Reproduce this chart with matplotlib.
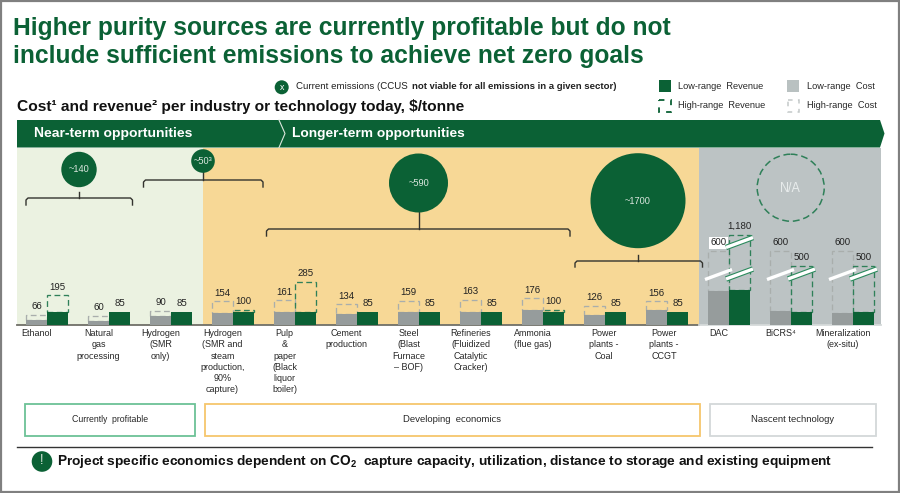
import numpy as np
import matplotlib
matplotlib.use("Agg")
import matplotlib.pyplot as plt
from matplotlib.patches import Rectangle, Circle, Polygon
from matplotlib.ticker import NullLocator

plt.rcParams['font.family'] = ['Liberation Sans', 'DejaVu Sans']
plt.rcParams['mathtext.default'] = 'regular'
plt.rcParams['text.hinting'] = 'native'

categories = ["Ethanol", "Natural\ngas\nprocessing", "Hydrogen\n(SMR\nonly)",
              "Hydrogen\n(SMR and\nsteam\nproduction,\n90%\ncapture)",
              "Pulp\n&\npaper\n(Black\nliquor\nboiler)", "Cement\nproduction",
              "Steel\n(Blast\nFurnace\n– BOF)",
              "Refineries\n(Fluidized\nCatalytic\nCracker)", "Ammonia\n(flue gas)",
              "Power\nplants -\nCoal", "Power\nplants -\nCCGT", "DAC", "BiCRS⁴",
              "Mineralization\n(ex-situ)"]
cost_low = [30, 25, 60, 80, 85, 72, 85, 85, 95, 65, 95, 225, 90, 80]
cost_high = [66, 60, 90, 154, 161, 134, 159, 163, 176, 126, 156, 600, 600, 600]
rev_low = [85, 85, 85, 85, 85, 85, 85, 85, 85, 85, 85, 230, 85, 85]
rev_high = [195, 85, 85, 100, 285, 85, 85, 85, 100, 85, 85, 1180, 500, 500]
cost_labels = ["66", "60", "90", "154", "161", "134", "159", "163", "176", "126", "156", "600", "600", "600"]
rev_labels = ["195", "85", "85", "100", "285", "85", "85", "85", "100", "85", "85", "1,180", "500", "500"]

GREEN = "#0B6135"; DASHG = "#2F8059"; GRAYBAR = "#969C9C"; DASHC = "#A9AEAC"
TXT = "#222222"

fig = plt.figure(figsize=(9, 4.93), dpi=100, facecolor="white")

# background layer in pixel coordinates
bg = fig.add_axes([0, 0, 1, 1], zorder=0)
bg.set_xlim(0, 900); bg.set_ylim(493, 0); bg.axis("off")
bg.add_patch(Rectangle((17, 147.5), 186, 177.5, fc="#EBF2E1", ec="none"))
bg.add_patch(Rectangle((203, 147.5), 496, 177.5, fc="#F7D896", ec="none"))
bg.add_patch(Rectangle((699, 147.5), 182, 177.5, fc="#BCC3C4", ec="none"))
bg.plot([17, 699], [324.8, 324.8], color="#6F6F68", lw=1.3)
bg.plot([699, 881], [324.8, 324.8], color="#D5DADA", lw=1.3)

# chart layer: bars via a compressed y-scale (values above 285 are on a broken axis)
ax = fig.add_axes([16 / 900, (493 - 324.5) / 493, 868 / 900, 177 / 493], zorder=1)
ax.patch.set_alpha(0)
_v = [0, 285, 500, 600, 1180, 3000]
_p = [0, 42.75, 59, 73.5, 89.5, 177]
ax.set_yscale("function", functions=(lambda y: np.interp(y, _v, _p),
                                     lambda p: np.interp(p, _p, _v)))
ax.set_xlim(-0.5, 13.5); ax.set_ylim(0, 3000)
for s in ax.spines.values():
    s.set_visible(False)
ax.set_yticks([])
ax.yaxis.set_minor_locator(NullLocator())

x = np.arange(len(categories), dtype=float)
w = 21 / 62
cl, ch, rl, rh = map(np.array, (cost_low, cost_high, rev_low, rev_high))
DASH = (0, (4.4, 2.6))
ax.bar(x - w / 2, ch - cl, w, bottom=cl, fill=False, edgecolor=DASHC, lw=0.95, ls=DASH, zorder=2)
m = rh > rl
ax.bar(x[m] + w / 2, (rh - rl)[m], w, bottom=rl[m], fill=False, edgecolor=DASHG, lw=0.95, ls=DASH, zorder=3)
ax.bar(x - w / 2, cl, w, color=GRAYBAR, zorder=4)
ax.bar(x + w / 2, rl, w, color=GREEN, zorder=4)

tick_x = x - w / 2
tick_x[9] += 0.15; tick_x[10] += 0.12
ax.set_xticks(tick_x)
ax.set_xticklabels(categories, fontsize=6.5, color=TXT, linespacing=1.32)
ax.tick_params(axis="x", length=0, pad=3.4)

for i in range(len(categories)):
    bb = dict(fc="white", ec="none", pad=1.2) if i == 11 else None
    ax.annotate(cost_labels[i], (x[i] - w / 2, ch[i]), xytext=(0, 5.8), textcoords="offset points",
                ha="center", va="center", fontsize=7.0, color=TXT, bbox=bb, zorder=6)
    ax.annotate(rev_labels[i], (x[i] + w / 2, rh[i]), xytext=(0, 5.8), textcoords="offset points",
                ha="center", va="center", fontsize=7.0, color=TXT, zorder=6)

# overlay layer in pixel coordinates
ov = fig.add_axes([0, 0, 1, 1], zorder=2)
ov.set_xlim(0, 900); ov.set_ylim(493, 0); ov.axis("off"); ov.patch.set_alpha(0)

# frame
ov.add_patch(Rectangle((0.8, 0.8), 898, 491, fc="none", ec="#808080", lw=1.6))

# title and subtitle
ov.text(13, 28, "Higher purity sources are currently profitable but do not", fontsize=17.75,
        fontweight="bold", color=GREEN, va="center", ha="left")
ov.text(13, 57, "include sufficient emissions to achieve net zero goals", fontsize=17.75,
        fontweight="bold", color=GREEN, va="center", ha="left")
ov.text(17, 107, "Cost¹ and revenue² per industry or technology today, $/tonne", fontsize=11.15,
        fontweight="bold", color="#111111", va="center", ha="left")

# legend
ov.add_patch(Circle((281.7, 87.3), 7, fc=GREEN, ec="none"))
ov.text(281.7, 87.5, "x", color="white", fontsize=6.5, ha="center", va="center")
ov.text(296, 86.5, "Current emissions (CCUS", fontsize=7.0, color=TXT, va="center")
ov.text(412, 86.5, "not viable for all emissions in a given sector)", fontsize=6.9, color=TXT,
        fontweight="bold", va="center")
ov.add_patch(Rectangle((658.5, 80), 12, 12, fc=GREEN, ec="none"))
ov.add_patch(Rectangle((659, 99.5), 11.5, 12, fc="none", ec=GREEN, lw=1.3, ls=(0, (3, 3.5))))
ov.add_patch(Rectangle((787, 80), 12, 12, fc="#B9C1C1", ec="none"))
ov.add_patch(Rectangle((787.5, 99.5), 11.5, 12, fc="none", ec="#C4C9C9", lw=1.1, ls=(0, (3, 3.5))))
ov.text(678.5, 86.5, "Low-range  Revenue", fontsize=6.6, color=TXT, va="center")
ov.text(678.5, 106, "High-range  Revenue", fontsize=6.6, color=TXT, va="center")
ov.text(807, 86.5, "Low-range  Cost", fontsize=6.7, color=TXT, va="center")
ov.text(807, 106, "High-range  Cost", fontsize=6.7, color=TXT, va="center")

# header band
ov.add_patch(Polygon([(17, 120), (880, 120), (884.5, 133.5), (880, 147.5), (17, 147.5)], fc=GREEN, ec="none"))
ov.plot([279, 285, 279], [120, 133.5, 147.5], color="#DDE8DD", lw=0.8)
ov.text(33.5, 133, "Near-term opportunities", color="white", fontsize=10, fontweight="bold", va="center")
ov.text(292, 133, "Longer-term opportunities", color="white", fontsize=9.95, fontweight="bold", va="center")

# emission bubbles
for cx, cy, r, lab in [(79, 169.5, 17.7, "~140"), (203, 161, 11.8, "~50³"),
                       (418.5, 183, 29.5, "~590"), (638, 200.7, 47.5, "~1700")]:
    ov.add_patch(Circle((cx, cy), r, fc=GREEN, ec="none", zorder=3))
    ov.text(cx, cy + 0.5, lab, color="#E4ECE6", fontsize=6.7, ha="center", va="center", zorder=4)
ov.add_patch(Circle((790.7, 187.7), 33.5, fc="none", ec=DASHG, lw=1.1, ls=(0, (4.5, 2.5))))
ov.text(790.7, 188, "N/A", color="#E8ECEC", fontsize=9, ha="center", va="center")

# braces
for x0, x1, xc, y, stem, tip in [(26, 132.5, 79, 198, 192, 205), (143.5, 263, 203, 180, 172, 187),
                                 (266.5, 570, 418.5, 229, 212, 236), (575, 702.5, 638, 261, 255, 267)]:
    ov.plot([x0, x0, x0 + 2, x1 - 2, x1, x1], [tip, y + 2, y, y, y + 2, tip], color="#33332E", lw=1.0, zorder=2)
    ov.plot([xc, xc], [stem, y], color="#33332E", lw=1.0, zorder=2)

# axis-break slashes
def slash(xm, ym, green):
    xs = [xm - 13.5, xm + 13.5]; ys = [ym + 5, ym - 5]
    if green:
        ov.plot(xs, ys, color="#2A8A5C", lw=4.0, solid_capstyle="butt", zorder=5)
    ov.plot(xs, ys, color="white", lw=2.4, solid_capstyle="butt", zorder=6)

for bx in [718.5, 780.5, 842.5]:
    slash(bx, 274.5, False)
    slash(bx + 21, 274, True)
slash(739.5, 242.5, True)

# category boxes
for x0, x1, ec, lab, fs in [(24.5, 195, "#6CC196", "Currently  profitable", 6.3),
                            (205, 699.5, "#F6C66C", "Developing  economics", 6.8),
                            (709.5, 875.5, "#D3D8D9", "Nascent technology", 6.8)]:
    ov.add_patch(Rectangle((x0, 403.5), x1 - x0, 32.5, fc="white", ec=ec, lw=1.3))
    ov.text((x0 + x1) / 2, 419.8, lab, fontsize=fs, color=TXT, ha="center", va="center")

# takeaway
ov.plot([17, 872], [447.3, 447.3], color="#333333", lw=1.0)
ov.add_patch(Circle((42, 461.5), 10.3, fc=GREEN, ec="none"))
ov.text(42, 461, "!", color="#DDE8DD", fontsize=9, ha="center", va="center")
ov.text(57, 461, "Project specific economics dependent on CO$_2$  capture capacity, utilization, distance to storage and existing equipment",
        fontsize=9.83, fontweight="bold", color="#111111", va="center")

fig.savefig("out.png", dpi=100)
